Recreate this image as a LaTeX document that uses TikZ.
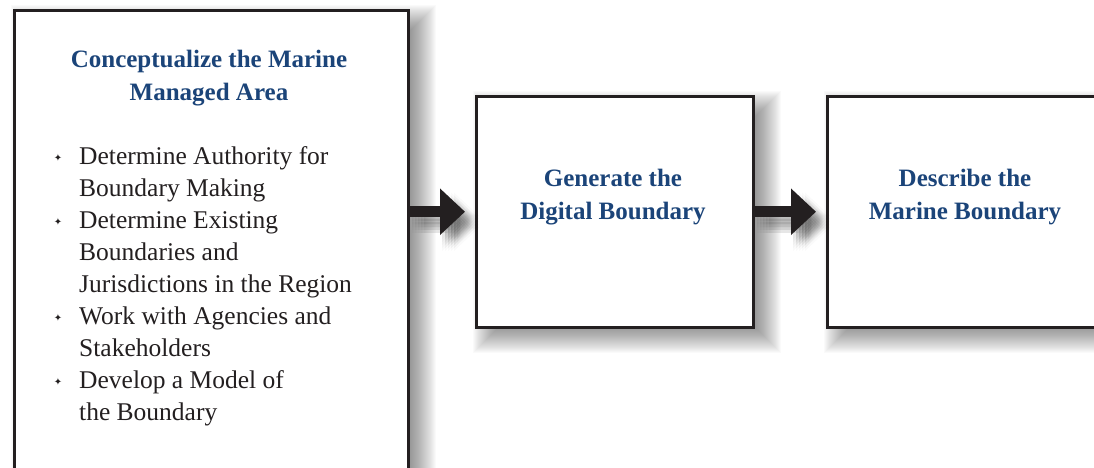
\documentclass[tikz,border=0pt]{standalone}
\usepackage{fontspec}
\setmainfont{Liberation Serif}
\newfontfamily\symfont{DejaVu Sans}
\usetikzlibrary{arrows.meta,calc}
\pgfdeclarelayer{background}
\pgfsetlayers{background,main}
\definecolor{ttlblue}{HTML}{1B4479}
\definecolor{ink}{HTML}{231F20}
\newcommand{\bul}{{\symfont\fontsize{10}{10}\selectfont\raisebox{3pt}{✦}}\hspace{17pt}}
\tikzset{
  stepbox/.style={draw=ink, line width=2.5pt, fill=white, anchor=north west, inner sep=0pt},
  ttl/.style={text=ttlblue, font=\fontsize{25}{33}\selectfont\bfseries, align=center},
  body/.style={text=ink, font=\fontsize{25.5}{32}\selectfont, align=left, inner sep=0pt},
  bigarrow/.style={draw=ink, line width=11pt, -{Triangle[length=25pt,width=45pt]}, shorten >=10pt},
  shade/.style={fill=black, opacity=0.02},
  arrshade/.style={bigarrow, draw=black, fill=black, opacity=0.018}
}
\begin{document}
\begin{tikzpicture}[x=1pt,y=-1pt]
\useasboundingbox (0,0) rectangle (1094,467);
\clip (0,0) rectangle (1094,467);
\node[stepbox, minimum width=394pt, minimum height=520pt] (b1) at (13,9) {};
\node[stepbox, minimum width=277pt, minimum height=231pt] (b2) at (475,95) {};
\node[stepbox, minimum width=300pt, minimum height=231pt] (b3) at (826,95) {};
\begin{pgfonlayer}{background}
  \foreach \b in {b1,b2,b3}{
    \foreach \r in {0,...,26}{
      \fill[shade] ($(\b.north west)+(24-\r,22-\r)$) rectangle ($(\b.south east)+(\r,-2+\r)$);
    }
  }
\end{pgfonlayer}
\node[ttl] (t1) at (209,78) {Conceptualize the Marine\\Managed Area};
\node[ttl] (t2) at (613,197) {Generate the\\Digital Boundary};
\node[ttl] (t3) at (965,197) {Describe the\\Marine Boundary};
\node[body, anchor=north west] (list) at (79,146) {\llap{\bul}Determine Authority for\\Boundary Making\\\llap{\bul}Determine Existing\\Boundaries and\\Jurisdictions in the Region\\\llap{\bul}Work with Agencies and\\Stakeholders\\\llap{\bul}Develop a Model of\\the Boundary};
\coordinate (a1) at (b1.east |- b2.west);
\foreach \dx in {-6,-3,0,3,6}{
  \foreach \dy in {-6,-3,0,3,6}{
    \draw[arrshade, transform canvas={shift={(8+\dx,10+\dy)}}] (a1) -- (b2.west);
    \draw[arrshade, transform canvas={shift={(8+\dx,10+\dy)}}] (b2.east) -- (b3.west);
  }
}
\draw[bigarrow] (a1) -- (b2.west);
\draw[bigarrow] (b2.east) -- (b3.west);
\end{tikzpicture}
\end{document}
